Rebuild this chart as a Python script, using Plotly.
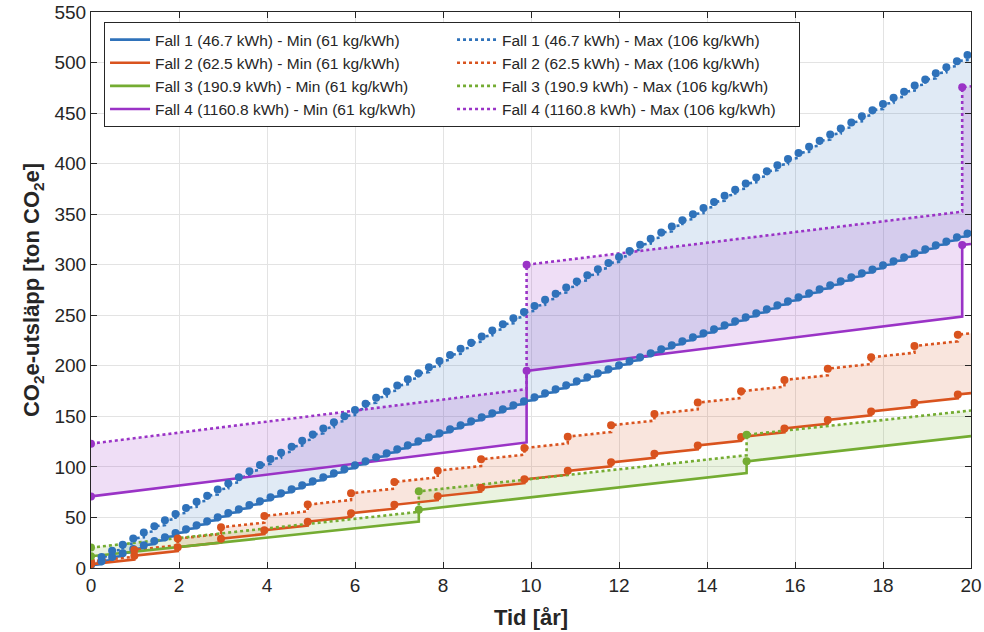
import plotly.graph_objects as go

# Battery capacity per case [kWh] and production emission factors [kg CO2e/kWh]
battery_kwh = [46.7, 62.5, 190.9, 1160.8]
factor_min = 61
factor_max = 106
t_end = 20.0

# Battery replacement times [år] (markers) per case
f1_t = [0, 0.24, 0.48, 0.72, 0.96, 1.2, 1.44, 1.68, 1.92, 2.16, 2.4, 2.64, 2.88, 3.12,
        3.36, 3.6, 3.84, 4.08, 4.32, 4.56, 4.8, 5.04, 5.28, 5.52, 5.76, 6.0, 6.24, 6.48,
        6.72, 6.96, 7.2, 7.44, 7.68, 7.92, 8.16, 8.4, 8.64, 8.88, 9.12, 9.36, 9.6, 9.84,
        10.08, 10.32, 10.56, 10.8, 11.04, 11.28, 11.52, 11.76, 12.0, 12.24, 12.48, 12.72,
        12.96, 13.2, 13.44, 13.68, 13.92, 14.16, 14.4, 14.64, 14.88, 15.12, 15.36, 15.6,
        15.84, 16.08, 16.32, 16.56, 16.8, 17.04, 17.28, 17.52, 17.76, 18.0, 18.24, 18.48,
        18.72, 18.96, 19.2, 19.44, 19.68, 19.92]
f2_t = [0, 0.985, 1.97, 2.955, 3.94, 4.925, 5.91, 6.895, 7.88, 8.865, 9.85, 10.835,
        11.82, 12.805, 13.79, 14.775, 15.76, 16.745, 17.73, 18.715, 19.7]
f3_t = [0, 7.45, 14.9]
f4_t = [0, 9.9, 19.8]

# Cumulative emissions [ton CO2e] right after each replacement
f1_min = [2.85, 6.8, 10.8, 14.7, 18.7, 22.6, 26.6, 30.5, 34.5, 38.4, 42.4, 46.3, 50.3,
          54.3, 58.2, 62.2, 66.1, 70.1, 74.0, 78.0, 81.9, 85.9, 89.8, 93.8, 97.7, 101.7,
          105.7, 109.6, 113.6, 117.5, 121.5, 125.4, 129.4, 133.3, 137.3, 141.2, 145.2,
          149.1, 153.1, 157.1, 161.0, 165.0, 168.9, 172.9, 176.8, 180.8, 184.7, 188.7,
          192.6, 196.6, 200.6, 204.5, 208.5, 212.4, 216.4, 220.3, 224.3, 228.2, 232.2,
          236.1, 240.1, 244.0, 248.0, 252.0, 255.9, 259.9, 263.8, 267.8, 271.7, 275.7,
          279.6, 283.6, 287.5, 291.5, 295.4, 299.4, 303.4, 307.3, 311.3, 315.2, 319.2,
          323.1, 327.1, 331.0]
f1_max = [4.95, 11.0, 17.1, 23.1, 29.2, 35.2, 41.3, 47.3, 53.4, 59.4, 65.5, 71.5, 77.6,
          83.7, 89.7, 95.8, 101.8, 107.9, 113.9, 120.0, 126.0, 132.1, 138.1, 144.2, 150.2,
          156.3, 162.4, 168.4, 174.5, 180.5, 186.6, 192.6, 198.7, 204.7, 210.8, 216.8,
          222.9, 228.9, 235.0, 241.1, 247.1, 253.2, 259.2, 265.3, 271.3, 277.4, 283.4,
          289.5, 295.5, 301.6, 307.7, 313.7, 319.8, 325.8, 331.9, 337.9, 344.0, 350.0,
          356.1, 362.1, 368.2, 374.2, 380.3, 386.4, 392.4, 398.5, 404.5, 410.6, 416.6,
          422.7, 428.7, 434.8, 440.8, 446.9, 452.9, 459.0, 465.1, 471.1, 477.2, 483.2,
          489.3, 495.3, 501.4, 507.4]
f2_min = [3.8, 12.2, 20.6, 29.0, 37.4, 45.8, 54.2, 62.5, 70.9, 79.3, 87.7, 96.1, 104.5,
          112.9, 121.3, 129.7, 138.1, 146.4, 154.8, 163.2, 171.6]
f2_max = [6.6, 17.8, 29.1, 40.3, 51.5, 62.7, 73.9, 85.1, 96.3, 107.5, 118.7, 129.9, 141.2,
          152.4, 163.6, 174.8, 186.0, 197.2, 208.4, 219.6, 230.8]
f3_min = [11.6, 57.5, 105.5]
f3_max = [20.2, 75.8, 131.8]
f4_min = [70.8, 195.0, 319.5]
f4_max = [123.0, 300.0, 475.5]

# Values at the end of the period (t = 20 år)
end_min = [331.4, 173.0, 130.5, 320.5]
end_max = [507.8, 232.2, 155.8, 476.5]

names = ["Fall 1", "Fall 2", "Fall 3", "Fall 4"]
times = [f1_t, f2_t, f3_t, f4_t]
mins = [f1_min, f2_min, f3_min, f4_min]
maxs = [f1_max, f2_max, f3_max, f4_max]

line_colors = ["#2F72BA", "#D9531E", "#74AC32", "#9A33C6"]
fill_colors = ["rgba(47,114,186,0.15)", "rgba(217,83,30,0.15)",
               "rgba(116,172,50,0.15)", "rgba(154,51,198,0.16)"]


def step_path(t, marks, jump, end_val):
    """Linear growth between replacements, vertical jump at each replacement."""
    xs, ys = [t[0]], [marks[0]]
    for ti, vi in zip(t[1:], marks[1:]):
        xs += [ti, ti]
        ys += [round(vi - jump, 2), vi]
    xs.append(t_end)
    ys.append(end_val)
    return xs, ys


font_family = "Liberation Sans, Arial, Helvetica, sans-serif"
fig = go.Figure()

paths = []
for i in range(4):
    kwh = battery_kwh[i]
    x0, y0 = step_path(times[i], mins[i], kwh * factor_min / 1000, end_min[i])
    x1, y1 = step_path(times[i], maxs[i], kwh * factor_max / 1000, end_max[i])
    paths.append((x0, y0, x1, y1))

# Shaded band between min and max for each case
for i, (x0, y0, x1, y1) in enumerate(paths):
    fig.add_trace(go.Scatter(
        x=x0 + x1[::-1], y=y0 + y1[::-1], mode="lines", fill="toself",
        fillcolor=fill_colors[i], line=dict(width=0), showlegend=False,
        hoverinfo="skip",
    ))

# Min (solid) and max (dotted) curves
for i, (x0, y0, x1, y1) in enumerate(paths):
    kwh = battery_kwh[i]
    fig.add_trace(go.Scatter(
        x=x0, y=y0, mode="lines",
        line=dict(color=line_colors[i], width=2.6),
        name=f"{names[i]} ({kwh} kWh) - Min ({factor_min} kg/kWh)",
    ))
    fig.add_trace(go.Scatter(
        x=x1, y=y1, mode="lines",
        line=dict(color=line_colors[i], width=2.6, dash="dot"),
        name=f"{names[i]} ({kwh} kWh) - Max ({factor_max} kg/kWh)",
    ))

# Markers at each battery replacement
for i in range(4):
    for vals in (mins[i], maxs[i]):
        fig.add_trace(go.Scatter(
            x=times[i], y=vals, mode="markers", showlegend=False, hoverinfo="skip",
            marker=dict(color=line_colors[i], size=8),
        ))

axis_common = dict(
    showline=True, linecolor="#262626", linewidth=1, mirror="ticks",
    ticks="inside", ticklen=6, tickcolor="#262626",
    showgrid=True, gridcolor="#E3E3E3", gridwidth=1, zeroline=False,
    tickfont=dict(size=19, color="#262626", family=font_family),
)

fig.update_xaxes(
    range=[0, 20], tick0=0, dtick=2,
    title=dict(text="<b>Tid [år]</b>", font=dict(size=22, color="#262626"), standoff=14),
    **axis_common,
)
fig.update_yaxes(
    range=[0, 550], tick0=0, dtick=50,
    title=dict(text="<b>CO<sub>2</sub>e-utsläpp [ton CO<sub>2</sub>e]</b>",
               font=dict(size=22, color="#262626"), standoff=8),
    **axis_common,
)

fig.update_layout(
    width=984, height=632,
    margin=dict(l=91, r=13, t=12, b=64, autoexpand=False),
    paper_bgcolor="white", plot_bgcolor="white",
    font=dict(family=font_family, color="#262626"),
    legend=dict(
        orientation="h", x=0.0148, y=0.982, xanchor="left", yanchor="top",
        entrywidth=292, entrywidthmode="pixels", traceorder="normal",
        bgcolor="white", bordercolor="#262626", borderwidth=1,
        font=dict(size=15.5, color="#262626", family=font_family),
        itemwidth=40,
    ),
    showlegend=True,
)

fig.write_html("out.html")
